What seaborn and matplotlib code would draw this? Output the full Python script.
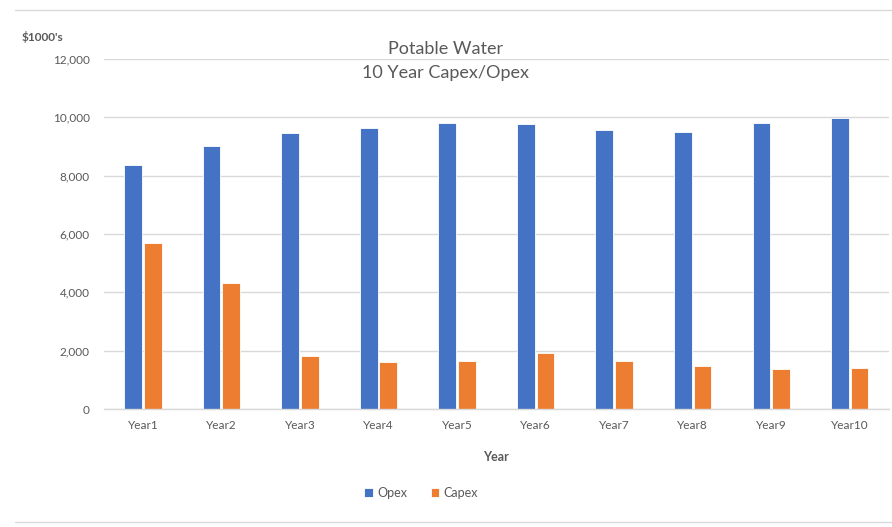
import matplotlib
matplotlib.use("Agg")
import matplotlib.pyplot as plt
import seaborn as sns
import pandas as pd
from matplotlib.lines import Line2D
from matplotlib.ticker import FuncFormatter

years = ["Year1", "Year2", "Year3", "Year4", "Year5", "Year6", "Year7", "Year8", "Year9", "Year10"]
opex = [8370, 9010, 9460, 9650, 9810, 9770, 9570, 9500, 9810, 9990]
capex = [5680, 4320, 1820, 1600, 1630, 1930, 1630, 1490, 1370, 1420]
series = ["Opex", "Capex"]
colors = ["#4472C4", "#ED7D31"]

df = pd.DataFrame({
    "Year": years * 2,
    "Value": opex + capex,
    "Series": [series[0]] * len(years) + [series[1]] * len(years),
})

sns.set_theme(style="white")
plt.rcParams["font.family"] = ["Lato", "DejaVu Sans"]
text_col = "#595959"

fig = plt.figure(figsize=(8.92, 5.27), dpi=100)
ax = fig.add_axes([103.6 / 892, 1 - 409 / 527, (889 - 103.6) / 892, 350 / 527])

sns.barplot(data=df, x="Year", y="Value", hue="Series", palette=colors,
            width=0.5, gap=0.1, ax=ax, legend=True, edgecolor="white", linewidth=0.6,
            saturation=1)

ax.set_ylim(0, 12000)
ax.set_yticks(range(0, 12001, 2000))
ax.yaxis.set_major_formatter(FuncFormatter(lambda v, p: f"{int(v):,}"))
ax.grid(axis="y", color="#D9D9D9", linewidth=1)
ax.set_axisbelow(True)
for s in ["top", "right", "left"]:
    ax.spines[s].set_visible(False)
ax.spines["bottom"].set_color("#D9D9D9")
ax.spines["bottom"].set_linewidth(1)
ax.tick_params(axis="both", length=0, labelsize=8.5, labelcolor=text_col)
ax.tick_params(axis="x", pad=8)
ax.tick_params(axis="y", pad=10)
ax.set_ylabel("")
ax.set_xlabel("Year", fontsize=9, fontweight="bold", color=text_col, labelpad=14)

leg = ax.legend(loc="center", bbox_to_anchor=(421 / 892, 1 - 493 / 527), bbox_transform=fig.transFigure,
                ncol=2, frameon=False, fontsize=9, handlelength=0.7, handleheight=0.7,
                columnspacing=1.9, handletextpad=0.3)
for t in leg.get_texts():
    t.set_color(text_col)

fig.text(446 / 892, 1 - 61 / 527, "Potable Water\n10 Year Capex/Opex", ha="center", va="center",
         fontsize=13, color=text_col, linespacing=1.55)
fig.text(22 / 892, 1 - 37 / 527, "$1000's", ha="left", va="center", fontsize=8.5,
         fontweight="bold", color=text_col)

fig.add_artist(Line2D([15 / 892, 1], [1 - 10 / 527, 1 - 10 / 527], color="#D9D9D9", linewidth=1,
                      transform=fig.transFigure))
fig.add_artist(Line2D([15 / 892, 1], [1 - 522 / 527, 1 - 522 / 527], color="#D9D9D9", linewidth=1,
                      transform=fig.transFigure))

fig.savefig("out.png", dpi=100, facecolor="white")
